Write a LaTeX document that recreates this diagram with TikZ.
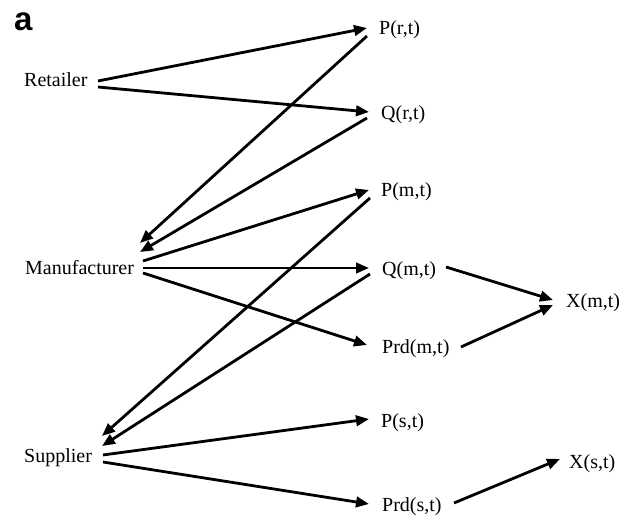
\documentclass[tikz,border=0pt]{standalone}
\usepackage{fontspec}
\setmainfont{Liberation Serif}
\newfontfamily\labelsans{Liberation Sans}
\usetikzlibrary{arrows.meta,calc}
\tikzset{
  lbl/.style={anchor=base west,inner sep=0pt,font=\fontsize{20}{24}\selectfont},
  conn/.style={line width=2.8pt,-{Triangle[length=13pt,width=10.5pt]}},
}
\begin{document}
\begin{tikzpicture}[x=1pt,y=-1pt]
\path[use as bounding box,fill=white] (0,0) rectangle (619,518);
\node[anchor=base west,inner sep=0pt,font=\labelsans\bfseries\fontsize{33}{36}\selectfont] (tag) at (14,31) {a};
\node[lbl] (ret) at (24,87) {Retailer};
\node[lbl] (man) at (25,275) {Manufacturer};
\node[lbl] (sup) at (24,463) {Supplier};
\node[lbl] (prt) at (379,35) {P(r,t)};
\node[lbl] (qrt) at (381,119.5) {Q(r,t)};
\node[lbl] (pmt) at (381,197) {P(m,t)};
\node[lbl] (qmt) at (382,276) {Q(m,t)};
\node[lbl] (prdm) at (382,353.5) {Prd(m,t)};
\node[lbl] (xmt) at (566,307.5) {X(m,t)};
\node[lbl] (pst) at (381,427.5) {P(s,t)};
\node[lbl] (prds) at (382,511.5) {Prd(s,t)};
\node[lbl] (xst) at (569,468.5) {X(s,t)};
% retailer
\draw[conn] ($(ret.base west)+(74,-6)$) -- ($(prt.base west)+(-12,-7)$);
\draw[conn] ($(ret.base west)+(74,0)$) -- ($(qrt.base west)+(-12,-7.5)$);
% to manufacturer
\draw[conn] ($(prt.base west)+(-12,1)$) -- ($(man.base west)+(115,-32)$);
\draw[conn] ($(qrt.base west)+(-14,-1.5)$) -- ($(man.base west)+(115,-23)$);
% manufacturer out
\draw[conn] ($(man.base west)+(118,-14)$) -- ($(pmt.base west)+(-12,-7)$);
\draw[conn] ($(man.base west)+(118,-7)$) -- ($(qmt.base west)+(-13,-8)$);
\draw[conn] ($(man.base west)+(118,-2)$) -- ($(prdm.base west)+(-15,-8.5)$);
% to supplier
\draw[conn] ($(pmt.base west)+(-11,1)$) -- ($(sup.base west)+(78,-27)$);
\draw[conn] ($(qmt.base west)+(-12,-2)$) -- ($(sup.base west)+(78,-17)$);
% supplier out
\draw[conn] ($(sup.base west)+(79,-8)$) -- ($(pst.base west)+(-12,-8.5)$);
\draw[conn] ($(sup.base west)+(79,-1)$) -- ($(prds.base west)+(-13,-7.5)$);
% to X
\draw[conn] ($(qmt.base west)+(64,-9)$) -- ($(xmt.base west)+(-13,-7.5)$);
\draw[conn] ($(prdm.base west)+(79,-6.5)$) -- ($(xmt.base west)+(-13,-2.5)$);
\draw[conn] ($(prds.base west)+(72,-8.5)$) -- ($(xst.base west)+(-9,-9.5)$);
\end{tikzpicture}
\end{document}
